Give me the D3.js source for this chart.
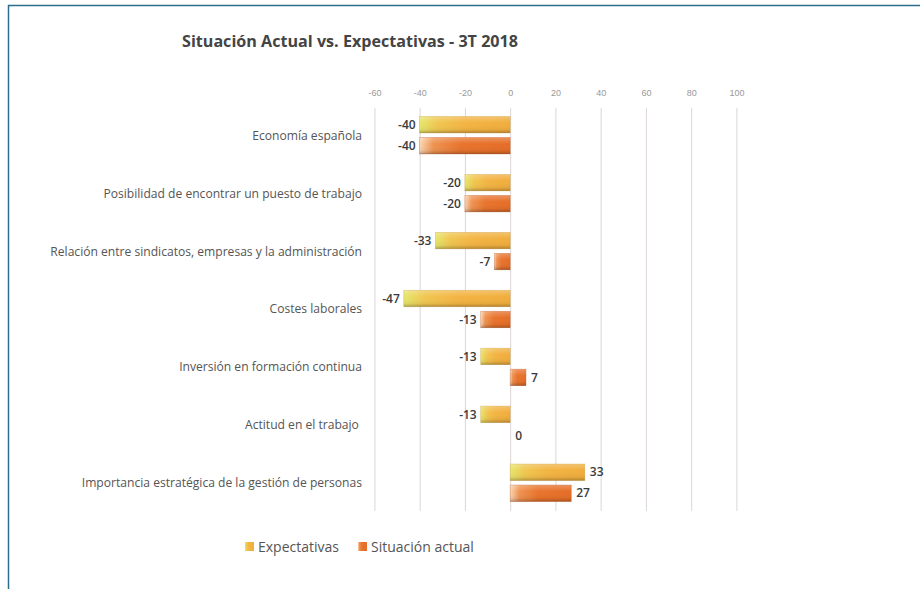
<!DOCTYPE html>
<html><head><meta charset="utf-8">
<script src="https://cdn.jsdelivr.net/npm/d3@7"></script>
<style>
html,body{margin:0;padding:0;background:#fff;}
svg{display:block;}
</style></head>
<body>
<div id="chart"></div>
<script>
const categories = [
  "Economía española",
  "Posibilidad de encontrar un puesto de trabajo",
  "Relación entre sindicatos, empresas y la administración",
  "Costes laborales",
  "Inversión en formación continua",
  "Actitud en el trabajo ",
  "Importancia estratégica de la gestión de personas"
];
const expectativas = [-40, -20, -33, -47, -13, -13, 33];
const situacionActual = [-40, -20, -7, -13, 7, 0, 27];
const tickValues = [-60, -40, -20, 0, 20, 40, 60, 80, 100];
const seriesNames = ["Expectativas", "Situación actual"];

const W = 920, H = 589;
const svg = d3.select("#chart").append("svg").attr("width", W).attr("height", H);
const defs = svg.append("defs");

function grad(id, stops) {
  const g = defs.append("linearGradient").attr("id", id)
    .attr("x1", "0").attr("y1", "0").attr("x2", "1").attr("y2", "0");
  stops.forEach(s => g.append("stop").attr("offset", s[0]).attr("stop-color", s[1]));
}
grad("gExp", [[0, "#e6e66c"], [0.2, "#f0c650"], [0.5, "#f3b443"], [1, "#f0ad3c"]]);
grad("gSit", [[0, "#fbd6b2"], [0.15, "#ef9352"], [0.45, "#e8742d"], [1, "#e56d27"]]);
const vg = defs.append("linearGradient").attr("id", "gShade")
  .attr("x1", "0").attr("y1", "0").attr("x2", "0").attr("y2", "1");
vg.append("stop").attr("offset", 0).attr("stop-color", "#fff").attr("stop-opacity", 0.25);
vg.append("stop").attr("offset", 0.4).attr("stop-color", "#fff").attr("stop-opacity", 0);
vg.append("stop").attr("offset", 0.8).attr("stop-color", "#000").attr("stop-opacity", 0.05);
vg.append("stop").attr("offset", 1).attr("stop-color", "#000").attr("stop-opacity", 0.25);

// frame
svg.append("line").attr("x1", 8).attr("x2", W).attr("y1", 5.5).attr("y2", 5.5)
  .attr("stroke", "#2a6d8c").attr("stroke-width", 1.5);
svg.append("line").attr("x1", 8.5).attr("x2", 8.5).attr("y1", 5).attr("y2", H)
  .attr("stroke", "#2a6d8c").attr("stroke-width", 1.5);

// title
svg.append("text").attr("x", 182).attr("y", 47)
  .attr("font-family", "'Open Sans', sans-serif").attr("font-weight", 700)
  .attr("font-size", 15.5).attr("fill", "#444")
  .attr("textLength", 336).attr("lengthAdjust", "spacingAndGlyphs")
  .text("Situación Actual vs. Expectativas - 3T 2018");

const x = d3.scaleLinear().domain([-60, 100]).range([374.4, 736.4]);
const y = d3.scaleBand().domain(categories).range([106.5, 512]).paddingInner(0).paddingOuter(0);
const yc = c => y(c) + y.bandwidth() / 2;

// grid
svg.append("g").selectAll("line").data(tickValues).join("line")
  .attr("x1", d => x(d) + 0.5).attr("x2", d => x(d) + 0.5)
  .attr("y1", 108).attr("y2", 511)
  .attr("stroke", "#dcd6d4").attr("stroke-width", 1);

// top axis labels
const axis = d3.axisTop(x).tickValues(tickValues).tickSize(0).tickPadding(0)
  .tickFormat(d => String(d));
const ag = svg.append("g").attr("transform", "translate(0,96)").call(axis);
ag.select(".domain").remove();
ag.selectAll("text").attr("font-family", "'Liberation Sans Narrow', 'Liberation Sans', sans-serif")
  .attr("font-size", 9).attr("fill", "#999");

// category labels
svg.append("g").selectAll("text").data(categories).join("text")
  .attr("x", 362).attr("y", d => yc(d)).attr("dy", "0.35em")
  .attr("text-anchor", "end").style("white-space", "pre")
  .attr("font-family", "'Open Sans', sans-serif").attr("font-size", 12.1)
  .attr("fill", "#555").text(d => d);

const barH = 16.5;
const series = [
  {name: seriesNames[0], values: expectativas, fill: "url(#gExp)", off: -19, edge: "#c99a3a"},
  {name: seriesNames[1], values: situacionActual, fill: "url(#gSit)", off: 2, edge: "#b9582a"}
];

series.forEach(s => {
  const g = svg.append("g");
  const data = categories.map((c, i) => ({c, v: s.values[i]}));
  const bars = data.filter(d => d.v !== 0);
  g.selectAll("rect.bar").data(bars).join("rect").attr("class", "bar")
    .attr("x", d => x(Math.min(0, d.v))).attr("width", d => Math.abs(x(d.v) - x(0)))
    .attr("y", d => yc(d.c) + s.off).attr("height", barH)
    .attr("fill", s.fill).attr("stroke", s.edge).attr("stroke-width", 0.6).attr("stroke-opacity", 0.6);
  g.selectAll("rect.shade").data(bars).join("rect").attr("class", "shade")
    .attr("x", d => x(Math.min(0, d.v))).attr("width", d => Math.abs(x(d.v) - x(0)))
    .attr("y", d => yc(d.c) + s.off).attr("height", barH)
    .attr("fill", "url(#gShade)");
  g.selectAll("text").data(data).join("text")
    .attr("x", d => d.v < 0 ? x(d.v) - 4 : x(d.v) + 5)
    .attr("y", d => yc(d.c) + s.off + barH / 2).attr("dy", "0.35em")
    .attr("text-anchor", d => d.v < 0 ? "end" : "start")
    .attr("font-family", "'Open Sans', sans-serif").attr("font-weight", 600)
    .attr("font-size", 12).attr("fill", "#3a3a3a")
    .text(d => d.v);
});

// legend
const lg = svg.append("g").attr("transform", "translate(245,547)");
const legendItems = [
  {name: seriesNames[0], fill: "url(#gExp)", x: 0},
  {name: seriesNames[1], fill: "url(#gSit)", x: 113}
];
legendItems.forEach(it => {
  lg.append("rect").attr("x", it.x).attr("y", -5).attr("width", 9).attr("height", 9).attr("fill", it.fill);
  lg.append("text").attr("x", it.x + 13).attr("y", 0).attr("dy", "0.35em")
    .attr("font-family", "'Open Sans', sans-serif").attr("font-size", 14).attr("fill", "#555")
    .text(it.name);
});
</script>
</body></html>
